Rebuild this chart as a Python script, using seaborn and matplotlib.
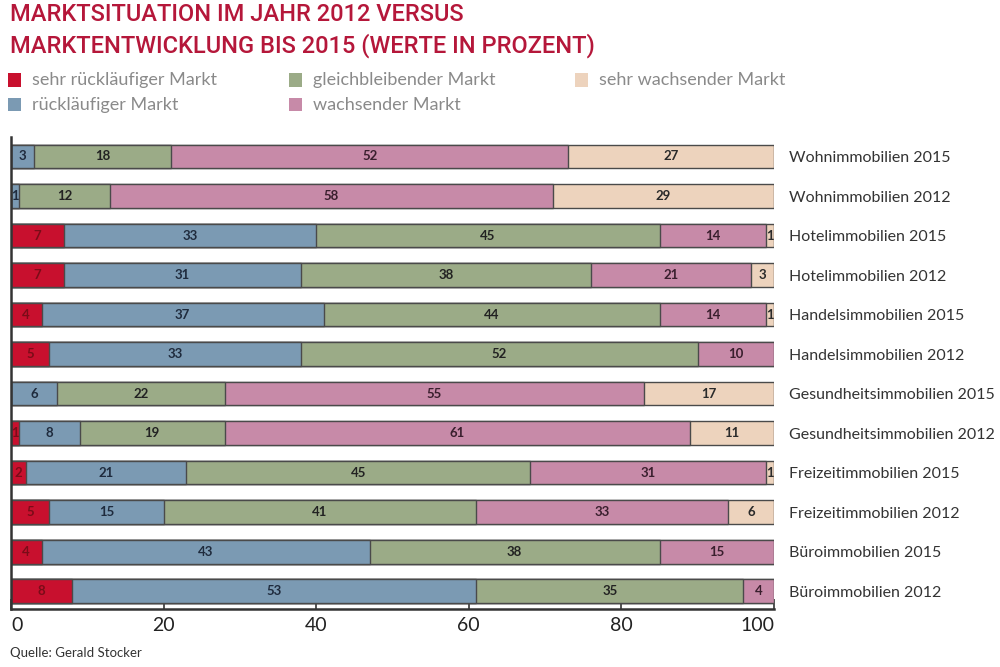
import numpy as np
import pandas as pd
import matplotlib
matplotlib.use("Agg")
import matplotlib.pyplot as plt
import seaborn as sns
from matplotlib.patches import Rectangle

categories = [
    "Wohnimmobilien 2015", "Wohnimmobilien 2012",
    "Hotelimmobilien 2015", "Hotelimmobilien 2012",
    "Handelsimmobilien 2015", "Handelsimmobilien 2012",
    "Gesundheitsimmobilien 2015", "Gesundheitsimmobilien 2012",
    "Freizeitimmobilien 2015", "Freizeitimmobilien 2012",
    "Büroimmobilien 2015", "Büroimmobilien 2012",
]
sehr_ruecklaeufig = [0, 0, 7, 7, 4, 5, 0, 1, 2, 5, 4, 8]
ruecklaeufig      = [3, 1, 33, 31, 37, 33, 6, 8, 21, 15, 43, 53]
gleichbleibend    = [18, 12, 45, 38, 44, 52, 22, 19, 45, 41, 38, 35]
wachsend          = [52, 58, 14, 21, 14, 10, 55, 61, 31, 33, 15, 4]
sehr_wachsend     = [27, 29, 1, 3, 1, 0, 17, 11, 1, 6, 0, 0]
x_ticks = [0, 20, 40, 60, 80, 100]

series_names = ["sehr rückläufiger Markt", "rückläufiger Markt", "gleichbleibender Markt",
                "wachsender Markt", "sehr wachsender Markt"]
series_vals = [sehr_ruecklaeufig, ruecklaeufig, gleichbleibend, wachsend, sehr_wachsend]
colors = ["#c8102e", "#7b9ab3", "#9bab87", "#c78aa8", "#edd3bd"]
text_colors = ["#7a0c18", "#1f2b3d", "#222222", "#3a1f2e", "#2a2a2a"]

sns.set_theme(style="white")
plt.rcParams["font.family"] = ["Lato", "DejaVu Sans"]

fig = plt.figure(figsize=(10, 6.67), dpi=100)
ax = fig.add_axes([0.011, 0.087, 0.763, 0.708])

cum = np.zeros(len(categories))
cums = []
for vals in series_vals:
    cum = cum + np.array(vals)
    cums.append(cum.copy())

# draw cumulative bars from the widest to the narrowest so they stack visually
for i in reversed(range(len(series_vals))):
    d = pd.DataFrame({"cat": categories, "val": cums[i]})
    sns.barplot(data=d, x="val", y="cat", orient="h", color=colors[i], saturation=1,
                width=0.6, edgecolor="#4a4a4a", linewidth=1.0, ax=ax)

# value labels
for i, vals in enumerate(series_vals):
    starts = cums[i] - np.array(vals)
    for j, v in enumerate(vals):
        if v > 0:
            ax.text(starts[j] + v / 2, j, str(v), ha="center", va="center",
                    fontsize=9.5, fontweight="bold", color=text_colors[i])

ax.set_xlim(0, 100)
ax.set_ylim(11.45, -0.5)
ax.set_xlabel("")
ax.set_ylabel("")
ax.set_xticks(x_ticks)
ax.set_xticklabels([str(t) for t in x_ticks], fontsize=14, color="#222222")
tl = ax.get_xticklabels()
tl[0].set_ha("left")
tl[-1].set_ha("right")
ax.tick_params(axis="x", direction="in", length=7, width=1.2, color="#333333", pad=6, bottom=True)
ax.yaxis.tick_right()
ax.tick_params(axis="y", length=0, pad=11, labelsize=11.5, labelcolor="#333333")
for s in ["top", "right"]:
    ax.spines[s].set_visible(False)
for s in ["left", "bottom"]:
    ax.spines[s].set_visible(True)
    ax.spines[s].set_color("#333333")
    ax.spines[s].set_linewidth(1.8)

# title
title_font = ["Roboto", "DejaVu Sans"]
fig.text(0.010, 0.995, "MARKTSITUATION IM JAHR 2012 VERSUS", color="#b5173a", fontsize=17,
         family=title_font, fontweight="medium", va="top", ha="left")
fig.text(0.010, 0.950, "MARKTENTWICKLUNG BIS 2015 (WERTE IN PROZENT)", color="#b5173a", fontsize=17,
         family=title_font, fontweight="medium", va="top", ha="left")

# legend
legend_pos = [(0.008, 0.880), (0.008, 0.843), (0.289, 0.880), (0.289, 0.843), (0.575, 0.880)]
for k, (lx, ly) in enumerate(legend_pos):
    fig.patches.append(Rectangle((lx, ly - 0.010), 0.013, 0.020, transform=fig.transFigure,
                                 facecolor=colors[k], edgecolor="none"))
    fig.text(lx + 0.024, ly, series_names[k], color="#8a8a8a", fontsize=13,
             va="center", ha="left", fontweight="normal")

fig.text(0.010, 0.012, "Quelle: Gerald Stocker", color="#333333", fontsize=9.5, ha="left", va="bottom")

fig.savefig("out.png", dpi=100)
